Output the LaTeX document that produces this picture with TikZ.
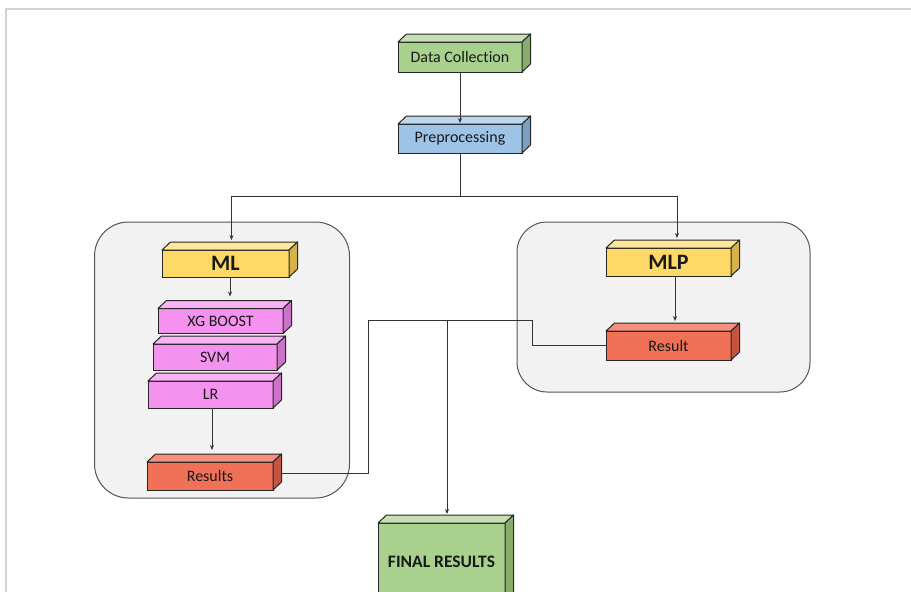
\documentclass[tikz,border=0pt]{standalone}
\usepackage{fontspec}
\setmainfont{Carlito}[Ligatures={NoCommon}]
\usetikzlibrary{arrows.meta}

\definecolor{edgegrey}{HTML}{D2D2D2}
\definecolor{groupfill}{HTML}{F2F2F2}
\definecolor{groupline}{HTML}{555555}
\definecolor{wire}{HTML}{333333}
\definecolor{greenF}{HTML}{A9D18E}\definecolor{greenT}{HTML}{C5E0B4}\definecolor{greenS}{HTML}{86AD6C}
\definecolor{blueF}{HTML}{9DC3E6}\definecolor{blueT}{HTML}{BDD7EE}\definecolor{blueS}{HTML}{7A9FC2}
\definecolor{yelF}{HTML}{FFD966}\definecolor{yelT}{HTML}{FFE699}\definecolor{yelS}{HTML}{D6B24A}
\definecolor{pinkF}{HTML}{F592F0}\definecolor{pinkT}{HTML}{F8B2F5}\definecolor{pinkS}{HTML}{CC72C8}
\definecolor{redF}{HTML}{F07058}\definecolor{redT}{HTML}{F4917E}\definecolor{redS}{HTML}{C4543F}

\def\bdx{8.5}
\def\bdy{8}
% top and right faces of a box node: name, top colour, side colour
\newcommand\boxfaces[3]{%
  \filldraw[face, fill=#2] (#1.north west) -- ++(\bdx,-\bdy)
    -- ([shift={(\bdx,-\bdy)}]#1.north east) -- (#1.north east) -- cycle;
  \filldraw[face, fill=#3] (#1.north east) -- ++(\bdx,-\bdy)
    -- ([shift={(\bdx,-\bdy)}]#1.south east) -- (#1.south east) -- cycle;}

\tikzset{
  face/.style={draw=black!85, line width=1pt, line join=round},
  blk/.style={rectangle, draw=black!85, line width=1pt, inner sep=0pt, outer sep=0pt,
    font=\fontsize{16}{17}\selectfont, text=black!90},
  bigblk/.style={blk, font=\fontsize{22}{24}\selectfont\bfseries},
  group/.style={rectangle, rounded corners=34pt, draw=groupline, line width=1pt,
    fill=groupfill, inner sep=0pt, outer sep=0pt},
  wireline/.style={draw=wire, line width=1pt},
  arr/.style={wireline, -{Stealth[length=5pt,width=4pt]}},
}

\begin{document}
\begin{tikzpicture}[x=1pt,y=-1pt]
\clip (0,0) rectangle (911,592);
\useasboundingbox (0,0) rectangle (911,592);

% page edges
\draw[edgegrey, line width=2pt] (5,9) -- (911,9);
\draw[edgegrey, line width=2pt] (6,9) -- (6,592);

% grouping panels
\node[group, minimum width=255, minimum height=276] (lgrp) at (222,360) {};
\node[group, minimum width=293, minimum height=170, rounded corners=30pt] (rgrp) at (663.5,307) {};

% blocks
\node[blk, fill=greenF, minimum width=124, minimum height=30] (dc) at (460,57) {Data Collection};
\boxfaces{dc}{greenT}{greenS}
\node[blk, fill=blueF, minimum width=124, minimum height=29] (pre) at (460,138.5) {Preprocessing};
\boxfaces{pre}{blueT}{blueS}

\node[bigblk, fill=yelF, minimum width=127, minimum height=27] (ml) at (225.5,263.5) {ML};
\boxfaces{ml}{yelT}{yelS}
\node[blk, fill=pinkF, minimum width=125, minimum height=25] (xg) at (220.5,321) {XG BOOST};
\boxfaces{xg}{pinkT}{pinkS}
\node[blk, fill=pinkF, minimum width=124, minimum height=26] (svm) at (215,357) {SVM};
\boxfaces{svm}{pinkT}{pinkS}
\node[blk, fill=pinkF, minimum width=125, minimum height=27] (lr) at (210.5,394.5) {LR};
\boxfaces{lr}{pinkT}{pinkS}
\node[blk, fill=redF, minimum width=126, minimum height=28] (res) at (210,476) {Results};
\boxfaces{res}{redT}{redS}

\node[bigblk, fill=yelF, minimum width=125, minimum height=28] (mlp) at (668.5,262) {MLP};
\boxfaces{mlp}{yelT}{yelS}
\node[blk, fill=redF, minimum width=125, minimum height=29] (result) at (668.5,345.5) {Result};
\boxfaces{result}{redT}{redS}

\node[blk, fill=greenF, minimum width=127, minimum height=78,
  font=\fontsize{17.5}{18}\selectfont\bfseries] (final) at (441.5,562) {FINAL RESULTS};
\boxfaces{final}{greenT}{greenS}

% connectors
\coordinate (split) at (460,196);
\coordinate (j1) at (368,320);
\coordinate (j2) at (532,320);
\coordinate (j3) at (447,320);
\coordinate (fintop) at ([yshift=9pt]final.north);

\draw[arr] (dc.south) -- ([yshift=1pt]pre.north);
\draw[wireline] (pre.south) -- (split);
\draw[arr] (split) -| ([shift={(6,-10)}]ml.north);
\draw[arr] (split) -| ([shift={(8.5,-10)}]mlp.north);
\draw[arr] ([xshift=4.5pt]ml.south) -- ([shift={(9.5,-12)}]xg.north);
\draw[arr] ([xshift=1.5pt]lr.south) -- ([shift={(2,-12)}]res.north);
\draw[arr] ([xshift=6.5pt]mlp.south) -- ([shift={(6.5,-10)}]result.north);
\draw[wireline] ([shift={(8,-3)}]res.east) -| (j1) -- (j2) |- (result.west);
\draw[arr] (j3) -- (j3 |- fintop);
\end{tikzpicture}
\end{document}
